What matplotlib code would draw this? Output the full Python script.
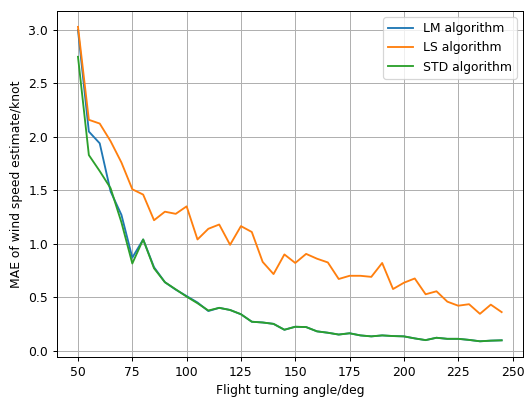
import matplotlib
matplotlib.use("Agg")
import matplotlib.pyplot as plt

angles = list(range(50, 250, 5))
lm = [3.0, 2.05, 1.94, 1.49, 1.27, 0.87, 1.04, 0.78, 0.64, 0.57, 0.51, 0.45, 0.37, 0.40, 0.38, 0.34,
      0.27, 0.263, 0.25, 0.195, 0.223, 0.22, 0.18, 0.167, 0.15, 0.162, 0.142, 0.133, 0.142, 0.136,
      0.133, 0.114, 0.098, 0.12, 0.11, 0.11, 0.10, 0.087, 0.093, 0.096]
ls = [3.03, 2.16, 2.125, 1.96, 1.76, 1.51, 1.46, 1.22, 1.30, 1.28, 1.35, 1.04, 1.14, 1.18, 0.99, 1.165,
      1.11, 0.83, 0.716, 0.90, 0.82, 0.905, 0.86, 0.825, 0.67, 0.70, 0.70, 0.69, 0.82, 0.576,
      0.635, 0.675, 0.527, 0.555, 0.458, 0.42, 0.434, 0.344, 0.43, 0.36]
std = [2.75, 1.83, 1.68, 1.52, 1.2, 0.815, 1.04, 0.77, 0.64, 0.573, 0.505, 0.443, 0.375, 0.40, 0.38, 0.34,
       0.27, 0.263, 0.25, 0.195, 0.223, 0.22, 0.18, 0.167, 0.15, 0.162, 0.142, 0.133, 0.142, 0.136,
       0.133, 0.114, 0.098, 0.12, 0.11, 0.11, 0.10, 0.087, 0.093, 0.096]

dpi = 89
fig, ax = plt.subplots(figsize=(526 / dpi, 398 / dpi), dpi=dpi)
ax.plot(angles, lm, label="LM algorithm")
ax.plot(angles, ls, label="LS algorithm")
ax.plot(angles, std, label="STD algorithm")
ax.set_xlabel("Flight turning angle/deg")
ax.set_ylabel("MAE of wind speed estimate/knot")
ax.grid(True)
ax.legend(loc="upper right")
fig.subplots_adjust(left=0.108, right=0.994, top=0.972, bottom=0.103)
fig.savefig("out.png", dpi=dpi)
